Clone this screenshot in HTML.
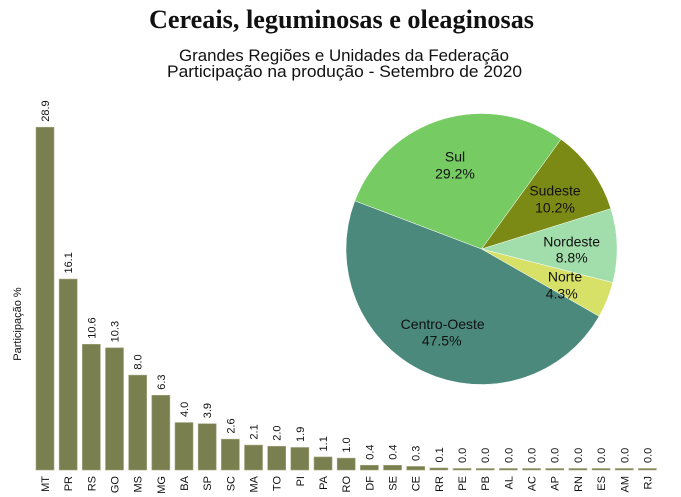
<!DOCTYPE html>
<html><head><meta charset="utf-8"><style>
html,body{margin:0;padding:0;background:#fff;}
svg{display:block;}
text{font-family:"Liberation Sans",Arial,sans-serif;fill:#111;}
</style></head><body>
<svg width="681" height="497" viewBox="0 0 681 497" xmlns="http://www.w3.org/2000/svg">
<rect width="681" height="497" fill="#fff"/>
<text x="149" y="28" font-family="Liberation Serif, serif" font-weight="bold" font-size="26" textLength="385" lengthAdjust="spacingAndGlyphs" style="font-family:'Liberation Serif',serif">Cereais, leguminosas e oleaginosas</text>
<text x="179" y="61" font-size="17" textLength="330" lengthAdjust="spacingAndGlyphs" fill="#222">Grandes Regiões e Unidades da Federação</text>
<text x="167" y="77" font-size="17" textLength="355" lengthAdjust="spacingAndGlyphs" fill="#222">Participação na produção - Setembro de 2020</text>

<text transform="translate(21,324) rotate(-90)" font-size="11" text-anchor="middle">Participação %</text>

<g fill="#797f4e" stroke="#a3a67f" stroke-width="0.6">
<rect x="36.00" y="127.25" width="18" height="342.75"/>
<rect x="59.17" y="279.05" width="18" height="190.95"/>
<rect x="82.34" y="344.28" width="18" height="125.72"/>
<rect x="105.51" y="347.84" width="18" height="122.16"/>
<rect x="128.68" y="375.12" width="18" height="94.88"/>
<rect x="151.85" y="395.28" width="18" height="74.72"/>
<rect x="175.02" y="422.56" width="18" height="47.44"/>
<rect x="198.19" y="423.75" width="18" height="46.25"/>
<rect x="221.36" y="439.16" width="18" height="30.84"/>
<rect x="244.53" y="445.09" width="18" height="24.91"/>
<rect x="267.70" y="446.28" width="18" height="23.72"/>
<rect x="290.87" y="447.47" width="18" height="22.53"/>
<rect x="314.04" y="456.95" width="18" height="13.05"/>
<rect x="337.21" y="458.14" width="18" height="11.86"/>
<rect x="360.38" y="465.26" width="18" height="4.74"/>
<rect x="383.55" y="465.26" width="18" height="4.74"/>
<rect x="406.72" y="466.44" width="18" height="3.56"/>
<rect x="429.89" y="468" width="18" height="2"/>
<rect x="453.06" y="468.5" width="18" height="1.5"/>
<rect x="476.23" y="468.5" width="18" height="1.5"/>
<rect x="499.40" y="468.5" width="18" height="1.5"/>
<rect x="522.57" y="468.5" width="18" height="1.5"/>
<rect x="545.74" y="468.5" width="18" height="1.5"/>
<rect x="568.91" y="468.5" width="18" height="1.5"/>
<rect x="592.08" y="468.5" width="18" height="1.5"/>
<rect x="615.25" y="468.5" width="18" height="1.5"/>
<rect x="638.42" y="468.5" width="18" height="1.5"/>
</g>

<g font-size="11">
<text transform="translate(49.00,121.75) rotate(-90)">28.9</text>
<text transform="translate(72.17,273.55) rotate(-90)">16.1</text>
<text transform="translate(95.34,338.78) rotate(-90)">10.6</text>
<text transform="translate(118.51,342.34) rotate(-90)">10.3</text>
<text transform="translate(141.68,369.62) rotate(-90)">8.0</text>
<text transform="translate(164.85,389.78) rotate(-90)">6.3</text>
<text transform="translate(188.02,417.06) rotate(-90)">4.0</text>
<text transform="translate(211.19,418.25) rotate(-90)">3.9</text>
<text transform="translate(234.36,433.66) rotate(-90)">2.6</text>
<text transform="translate(257.53,439.59) rotate(-90)">2.1</text>
<text transform="translate(280.70,440.78) rotate(-90)">2.0</text>
<text transform="translate(303.87,441.97) rotate(-90)">1.9</text>
<text transform="translate(327.04,451.45) rotate(-90)">1.1</text>
<text transform="translate(350.21,452.64) rotate(-90)">1.0</text>
<text transform="translate(373.38,459.76) rotate(-90)">0.4</text>
<text transform="translate(396.55,459.76) rotate(-90)">0.4</text>
<text transform="translate(419.72,460.94) rotate(-90)">0.3</text>
<text transform="translate(442.89,462.5) rotate(-90)">0.1</text>
<text transform="translate(466.06,463) rotate(-90)">0.0</text>
<text transform="translate(489.23,463) rotate(-90)">0.0</text>
<text transform="translate(512.40,463) rotate(-90)">0.0</text>
<text transform="translate(535.57,463) rotate(-90)">0.0</text>
<text transform="translate(558.74,463) rotate(-90)">0.0</text>
<text transform="translate(581.91,463) rotate(-90)">0.0</text>
<text transform="translate(605.08,463) rotate(-90)">0.0</text>
<text transform="translate(628.25,463) rotate(-90)">0.0</text>
<text transform="translate(651.42,463) rotate(-90)">0.0</text>
</g>

<g font-size="11" text-anchor="end">
<text transform="translate(49.00,476) rotate(-90)">MT</text>
<text transform="translate(72.17,476) rotate(-90)">PR</text>
<text transform="translate(95.34,476) rotate(-90)">RS</text>
<text transform="translate(118.51,476) rotate(-90)">GO</text>
<text transform="translate(141.68,476) rotate(-90)">MS</text>
<text transform="translate(164.85,476) rotate(-90)">MG</text>
<text transform="translate(188.02,476) rotate(-90)">BA</text>
<text transform="translate(211.19,476) rotate(-90)">SP</text>
<text transform="translate(234.36,476) rotate(-90)">SC</text>
<text transform="translate(257.53,476) rotate(-90)">MA</text>
<text transform="translate(280.70,476) rotate(-90)">TO</text>
<text transform="translate(303.87,476) rotate(-90)">PI</text>
<text transform="translate(327.04,476) rotate(-90)">PA</text>
<text transform="translate(350.21,476) rotate(-90)">RO</text>
<text transform="translate(373.38,476) rotate(-90)">DF</text>
<text transform="translate(396.55,476) rotate(-90)">SE</text>
<text transform="translate(419.72,476) rotate(-90)">CE</text>
<text transform="translate(442.89,476) rotate(-90)">RR</text>
<text transform="translate(466.06,476) rotate(-90)">PE</text>
<text transform="translate(489.23,476) rotate(-90)">PB</text>
<text transform="translate(512.40,476) rotate(-90)">AL</text>
<text transform="translate(535.57,476) rotate(-90)">AC</text>
<text transform="translate(558.74,476) rotate(-90)">AP</text>
<text transform="translate(581.91,476) rotate(-90)">RN</text>
<text transform="translate(605.08,476) rotate(-90)">ES</text>
<text transform="translate(628.25,476) rotate(-90)">AM</text>
<text transform="translate(651.42,476) rotate(-90)">RJ</text>
</g>

<g stroke="#ffffff" stroke-width="0.5">
<path d="M481.5,249 L599.09,316.34 A135.5,135.5 0 0 0 612.79,282.51 Z" fill="#d7e168"/>
<path d="M481.5,249 L612.79,282.51 A135.5,135.5 0 0 0 610.83,208.57 Z" fill="#a1deab"/>
<path d="M481.5,249 L610.83,208.57 A135.5,135.5 0 0 0 560.97,139.26 Z" fill="#7b8a14"/>
<path d="M481.5,249 L560.97,139.26 A135.5,135.5 0 0 0 354.83,200.88 Z" fill="#76cb63"/>
<path d="M481.5,249 L354.83,200.88 A135.5,135.5 0 0 0 599.09,316.34 Z" fill="#4a897c"/>
</g>

<g font-size="14" text-anchor="middle" fill="#111">
<text x="455" y="161.7">Sul</text>
<text x="455" y="178.3">29.2%</text>
<text x="555" y="195.7">Sudeste</text>
<text x="555" y="212.3">10.2%</text>
<text x="571.7" y="246.7">Nordeste</text>
<text x="571.7" y="262.3">8.8%</text>
<text x="565" y="281.7">Norte</text>
<text x="561.7" y="298.3">4.3%</text>
<text x="442.7" y="329">Centro-Oeste</text>
<text x="441.7" y="345.7">47.5%</text>
</g>
</svg>
</body></html>
